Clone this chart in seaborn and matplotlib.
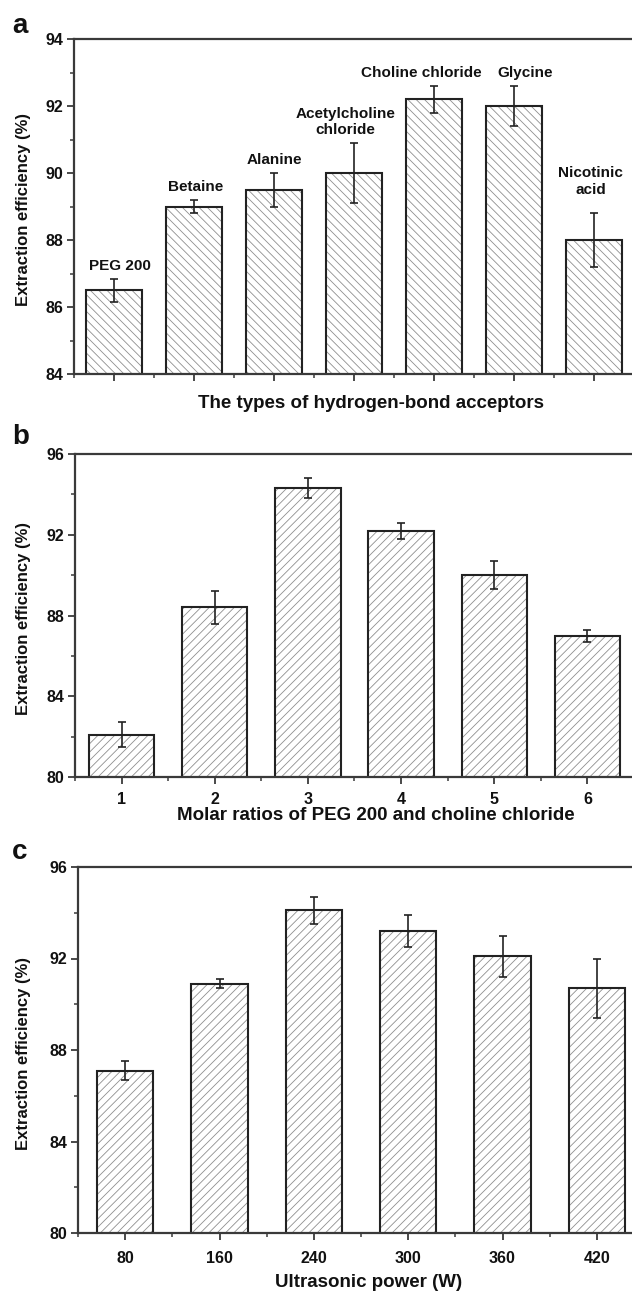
import matplotlib
matplotlib.use("Agg")
import matplotlib.pyplot as plt
import seaborn as sns
import pandas as pd
import numpy as np
from matplotlib.ticker import MultipleLocator

sns.set_theme(style="ticks")
plt.rcParams['font.family'] = ['Liberation Sans', 'DejaVu Sans']
plt.rcParams['font.weight'] = 'bold'
plt.rcParams['hatch.linewidth'] = 0.6

# ---------------- data ----------------
a_categories = ["PEG 200", "Betaine", "Alanine", "Acetylcholine\nchloride",
                "Choline chloride", "Glycine", "Nicotinic\nacid"]
a_values = [86.5, 89.0, 89.5, 90.0, 92.2, 92.0, 88.0]
a_errors = [0.34, 0.2, 0.5, 0.9, 0.4, 0.6, 0.8]

b_categories = ["1", "2", "3", "4", "5", "6"]
b_values = [82.1, 88.4, 94.3, 92.2, 90.0, 87.0]
b_errors = [0.6, 0.8, 0.5, 0.4, 0.7, 0.3]

c_categories = ["80", "160", "240", "300", "360", "420"]
c_values = [87.1, 90.9, 94.1, 93.2, 92.1, 90.7]
c_errors = [0.4, 0.2, 0.6, 0.7, 0.9, 1.3]

# layout (label offsets for panel a, in category units / points)
a_label_dx = [0.08, 0.02, 0.0, -0.11, -0.16, 0.14, -0.04]
a_label_dy_pt = [4, 4, 4, 4, 4, 4, 12]

W, H = 632, 1294
fig = plt.figure(figsize=(W / 100, H / 100), dpi=100)
fig.patch.set_facecolor("white")

DARK = "#222222"
HATCH = "#8f8f8f"


def px_axes(left, right, top, bottom):
    return fig.add_axes([left / W, 1 - bottom / H, (right - left) / W, (bottom - top) / H])


def draw_panel(ax, cats, vals, errs, hatch, width, ylim, ymajor, yminor,
               xlabel, show_xticklabels, xlabel_center_px, xlabel_top_px,
               left_px, right_px, top_px, bottom_px, tick_pad):
    df = pd.DataFrame({"cat": cats, "val": vals})
    sns.barplot(data=df, x="cat", y="val", order=cats, color="white",
                edgecolor=HATCH, linewidth=0, hatch=hatch, width=width,
                ax=ax, errorbar=None, saturation=1)
    sns.barplot(data=df, x="cat", y="val", order=cats, color=DARK,
                fill=False, linewidth=1.5, width=width, ax=ax, errorbar=None,
                saturation=1)
    xs = np.arange(len(cats))
    ax.errorbar(xs, vals, yerr=errs, fmt="none", ecolor=DARK, elinewidth=1.2,
                capsize=3, capthick=1.2, zorder=5)
    ax.set_xlim(-0.5, len(cats) - 0.5)
    ax.set_ylim(*ylim)
    ax.yaxis.set_major_locator(MultipleLocator(ymajor))
    ax.yaxis.set_minor_locator(MultipleLocator(yminor))
    ax.xaxis.set_minor_locator(MultipleLocator(0.5))
    for s in ax.spines.values():
        s.set_color("#3a3a3a")
        s.set_linewidth(1.6)
    ax.tick_params(axis="both", which="major", direction="out", length=5,
                   width=1.3, color="#3a3a3a", labelsize=11.5, pad=tick_pad,
                   labelcolor="#111111")
    ax.tick_params(axis="both", which="minor", direction="out", length=3,
                   width=1.1, color="#3a3a3a")
    ax.tick_params(axis="y", which="major", pad=3)
    if not show_xticklabels:
        ax.set_xticklabels([])
    else:
        for lab in ax.get_xticklabels():
            lab.set_fontweight("bold")
    for lab in ax.get_yticklabels():
        lab.set_fontweight("bold")
    ax.set_xlabel(xlabel, fontsize=13.5, fontweight="bold", color="#111111")
    ax.set_ylabel("Extraction efficiency (%)", fontsize=12, fontweight="bold",
                  color="#111111")
    wpx = right_px - left_px
    hpx = bottom_px - top_px
    ax.xaxis.set_label_coords((xlabel_center_px - left_px) / wpx,
                              -(xlabel_top_px - bottom_px) / hpx)
    ax.yaxis.set_label_coords((31 - left_px) / wpx, 0.49)
    ax.set_facecolor("none")


# ---------- panel a ----------
axa = px_axes(74, 634, 39, 374)
draw_panel(axa, a_categories, a_values, a_errors, "\\\\\\\\", 0.70, (84, 94), 2, 1,
           "The types of hydrogen-bond acceptors", False, 371, 395,
           74, 634, 39, 374, 6)
for i, (lab, v, e) in enumerate(zip(a_categories, a_values, a_errors)):
    axa.annotate(lab, xy=(i + a_label_dx[i], v + e), xytext=(0, a_label_dy_pt[i]),
                 textcoords="offset points", ha="center", va="bottom",
                 fontsize=11, fontweight="bold", color="#111111",
                 linespacing=1.2)

# ---------- panel b ----------
axb = px_axes(75, 634, 454, 777)
draw_panel(axb, b_categories, b_values, b_errors, "////", 0.70, (80, 96), 4, 2,
           "Molar ratios of PEG 200 and choline chloride", True, 376, 807,
           75, 634, 454, 777, 6)

# ---------- panel c ----------
axc = px_axes(78, 644, 867, 1233)
draw_panel(axc, c_categories, c_values, c_errors, "////", 0.60, (80, 96), 4, 2,
           "Ultrasonic power (W)", True, 369, 1274,
           78, 644, 867, 1233, 8)

# panel letters
for letter, ypx in [("a", 33), ("b", 444), ("c", 859)]:
    fig.text(12 / W, 1 - ypx / H, letter, fontsize=20, fontweight="bold",
             ha="left", va="baseline", color="#111111")

fig.savefig("out.png", dpi=100, facecolor="white")
